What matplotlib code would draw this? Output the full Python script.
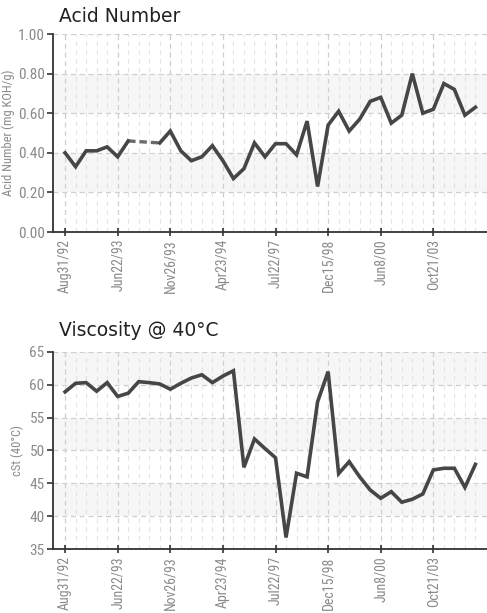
import numpy as np
import matplotlib
matplotlib.use("Agg")
import matplotlib.pyplot as plt
from matplotlib import font_manager

# sample dates shown on the x axis (every 5th sample)
tick_labels = ["Aug31/92", "Jun22/93", "Nov26/93", "Apr23/94",
               "Jul22/97", "Dec15/98", "Jun8/00", "Oct21/03"]
tick_step = 5

# Acid Number (mg KOH/g), None = no reading
acid = [0.40, 0.33, 0.41, 0.41, 0.43, 0.38, 0.46, None, None, 0.45,
        0.51, 0.41, 0.36, 0.38, 0.436, 0.36, 0.27, 0.32, 0.45, 0.38,
        0.446, 0.446, 0.39, 0.56, 0.23, 0.54, 0.61, 0.51, 0.57, 0.66,
        0.68, 0.55, 0.59, 0.80, 0.60, 0.62, 0.75, 0.72, 0.59, 0.63]

# Viscosity @ 40C (cSt)
visc = [58.9, 60.2, 60.3, 59.0, 60.3, 58.2, 58.7, 60.45, 60.3, 60.1,
        59.3, 60.2, 61.0, 61.5, 60.3, 61.3, 62.1, 47.45, 51.75, 50.3,
        48.9, 36.8, 46.55, 46.0, 57.4, 61.97, 46.5, 48.3, 46.0, 44.0,
        42.75, 43.75, 42.15, 42.6, 43.4, 47.05, 47.3, 47.3, 44.4, 47.9]

# look for a condensed sans font for the axis texts, else Liberation Sans
narrow = None
for f in font_manager.fontManager.ttflist:
    name = (f.name + " " + f.fname).lower()
    if ("narrow" in name or "condensed" in name) and f.weight in (400, "normal", "regular") \
            and f.style == "normal" and "mono" not in name and "serif" not in name.replace("sans", ""):
        narrow = f.fname
        if "liberation" in name:
            break
if narrow:
    tick_fp = font_manager.FontProperties(fname=narrow)
    sz_y, sz_x, sz_lab = 11, 10, 9
else:
    tick_fp = font_manager.FontProperties(family=["Liberation Sans", "DejaVu Sans"])
    sz_y, sz_x, sz_lab = 10, 9, 8

line_col = "#464646"
grey_txt = "#8a8a8a"

fig = plt.figure(figsize=(4.87, 6.13), dpi=100)


def draw_panel(ax, values, ylim, ystep, ylabel, fmt, label_x):
    y = np.array([np.nan if v is None else v for v in values], dtype=float)
    x = np.arange(len(y))

    # alternating bands
    levels = np.arange(ylim[0], ylim[1] + 1e-9, ystep)
    for k in range(len(levels) - 1):
        if k % 2 == 1:
            ax.axhspan(levels[k], levels[k + 1], color="#f6f6f6", zorder=0, lw=0)

    # grid
    for lv in levels[1:]:
        ax.axhline(lv, color="#cfcfcf", lw=0.9, ls=(0, (4, 3)), zorder=1)
    for xi in x:
        if xi % tick_step == 0:
            ax.axvline(xi, color="#cfcfcf", lw=0.9, ls=(0, (4, 3)), zorder=1)
        else:
            ax.axvline(xi, color="#e2e2e2", lw=0.8, ls=(0, (4, 4)), zorder=1)

    # dashed connectors across missing readings
    good = np.where(~np.isnan(y))[0]
    for a, b in zip(good[:-1], good[1:]):
        if b - a > 1:
            ax.plot([a, b], [y[a], y[b]], color="#6a6a6a", lw=2.4,
                    ls=(0, (2.2, 1.2)), zorder=3)

    ax.plot(x, y, color=line_col, lw=2.6, solid_joinstyle="miter", zorder=4)

    ax.set_xlim(-1.14, 40.1)
    ax.set_ylim(*ylim)
    ax.set_yticks(levels)
    ax.set_yticklabels([fmt.format(v) for v in levels],
                       fontproperties=tick_fp, fontsize=sz_y, color=grey_txt)
    ax.set_xticks(x[::tick_step])
    ax.set_xticklabels(tick_labels, rotation=90, fontproperties=tick_fp,
                       fontsize=sz_x, color=grey_txt)
    ax.tick_params(axis="both", length=4, width=1.2, color="#333333", pad=2)
    ax.tick_params(axis="x", direction="inout", length=6)
    for s in ("top", "right"):
        ax.spines[s].set_visible(False)
    for s in ("left", "bottom"):
        ax.spines[s].set_color("#333333")
        ax.spines[s].set_linewidth(1.3)
    ax.set_ylabel(ylabel, fontproperties=tick_fp, fontsize=sz_lab, color=grey_txt)
    ax.yaxis.set_label_coords(label_x, 0.5)


ax1 = fig.add_axes([0.109, 0.6215, 0.891, 0.323])
draw_panel(ax1, acid, (0.0, 1.0), 0.2, "Acid Number (mg KOH/g)", "{:.2f}", -0.088)

ax2 = fig.add_axes([0.109, 0.1039, 0.891, 0.3224])
draw_panel(ax2, visc, (35, 65), 5, "cSt (40\u00b0C)", "{:.0f}", -0.066)

fig.text(59 / 487, 1 - 16 / 613, "Acid Number", fontsize=13.5,
         color="#222222", va="center", ha="left")
fig.text(59 / 487, 1 - 331 / 613, "Viscosity @ 40\u00b0C", fontsize=13.5,
         color="#222222", va="center", ha="left")

fig.savefig("out.png", dpi=100)
